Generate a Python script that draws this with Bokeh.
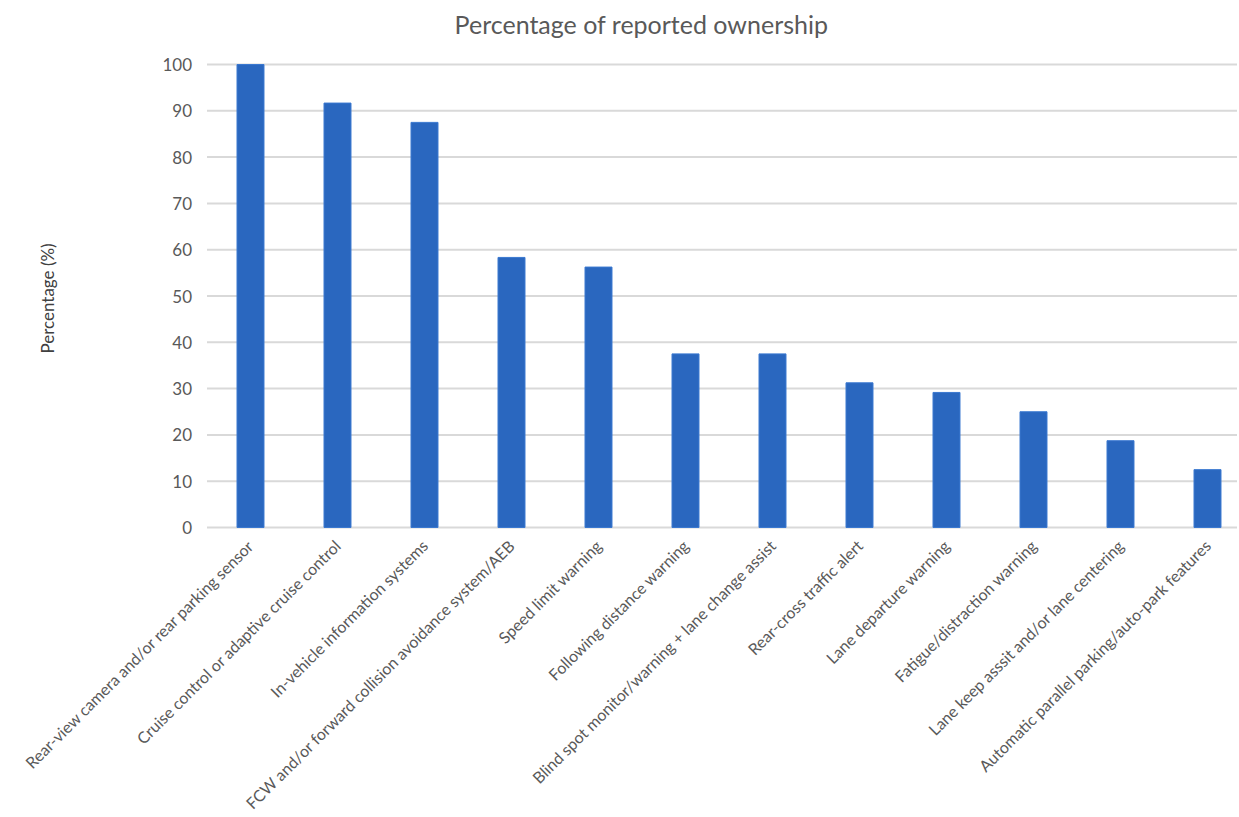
from bokeh.plotting import figure
from bokeh.models import Range1d, ColumnDataSource
from bokeh.core.properties import value
from bokeh.embed import file_html
from bokeh.resources import INLINE
import math

title_text = "Percentage of reported ownership"
y_label = "Percentage (%)"
categories = [
    "Rear-view camera and/or rear parking sensor",
    "Cruise control or adaptive cruise control",
    "In-vehicle information systems",
    "FCW and/or forward collision avoidance system/AEB",
    "Speed limit warning",
    "Following distance warning",
    "Blind spot monitor/warning + lane change assist",
    "Rear-cross traffic alert",
    "Lane departure warning",
    "Fatigue/distraction warning",
    "Lane keep asssit and/or lane centering",
    "Automatic parallel parking/auto-park features",
]
values = [100, 91.67, 87.5, 58.33, 56.25, 37.5, 37.5, 31.25, 29.17, 25, 18.75, 12.5]
y_ticks = [0, 10, 20, 30, 40, 50, 60, 70, 80, 90, 100]
y_tick_labels = [str(t) for t in y_ticks]

FONT = "Lato"
W, H = 1237, 816
PLOT_LEFT = 206.5     # px where the plotting area starts
TOP_100 = 64          # px from top to the 100 line
PX_PER_UNIT = 4.63    # vertical px per percentage point
PX_PER_CAT = 87       # horizontal px per category


def xd(px):
    """screen px (from left) -> x data"""
    return -0.5 + (px - PLOT_LEFT) / PX_PER_CAT


def yd(py):
    """screen px (from top) -> y data"""
    return 100 - (py - TOP_100) / PX_PER_UNIT


idx = list(range(len(categories)))
src = ColumnDataSource(dict(x=idx, top=values, base=[0] * len(idx), name=categories))
tick_src = ColumnDataSource(dict(y=y_ticks, label=y_tick_labels))

p = figure(width=W, height=H, output_backend="svg", toolbar_location=None, title=None,
           x_range=Range1d(xd(0), xd(W)), y_range=Range1d(yd(H), yd(0)),
           min_border_left=0, min_border_right=0, min_border_top=0,
           min_border_bottom=0)
p.outline_line_color = None
p.background_fill_color = "white"
p.border_fill_color = "white"
p.xaxis.visible = False
p.yaxis.visible = False
p.xgrid.grid_line_color = None
p.ygrid.grid_line_color = None

# horizontal gridlines at the y ticks, spanning the plotting area
p.segment(x0=xd(PLOT_LEFT), x1=xd(W), y0="y", y1="y", source=tick_src,
          line_color="#d9d9d9", line_width=2)

# bars
p.vbar(x="x", top="top", width=0.31, bottom=0, source=src,
       fill_color="#2a67bf", line_color="#3a78d0", line_width=1)

# y tick labels
p.text(x=xd(PLOT_LEFT - 15), y="y", text="label", source=tick_src,
       text_align="right", text_baseline="middle",
       text_font=value(FONT), text_font_size="17px", text_color="#595959")

# y axis title
p.text(x=[xd(47)], y=[yd(298)], text=[y_label], angle=math.pi / 2,
       text_align="center", text_baseline="middle",
       text_font=value(FONT), text_font_size="17px", text_color="#404040")

# category labels, rotated, hanging below the zero line
p.text(x="x", y="base", text="name", source=src, angle=math.pi / 4,
       text_align="right", text_baseline="middle", y_offset=15,
       text_font=value(FONT), text_font_size="16px", text_color="#595959")

# chart title
p.text(x=[xd(641)], y=[yd(23)], text=[title_text],
       text_align="center", text_baseline="middle",
       text_font=value(FONT), text_font_size="25px", text_color="#595959")

open("out.html", "w").write(file_html(p, INLINE))
